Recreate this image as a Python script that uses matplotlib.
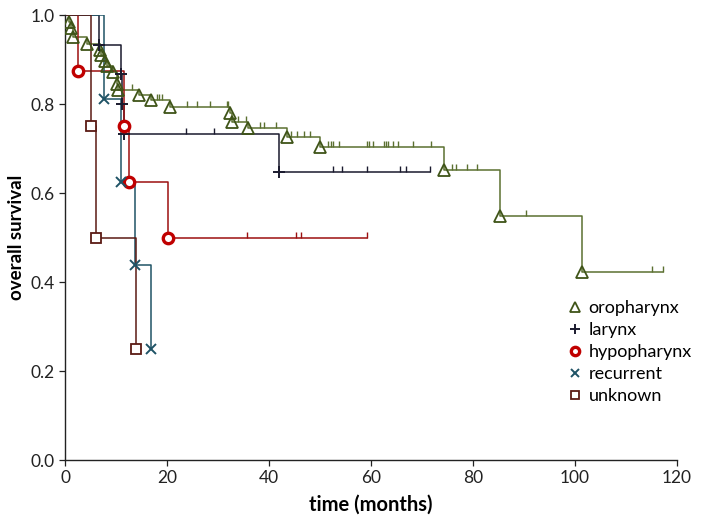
import matplotlib
matplotlib.use('Agg')

import matplotlib.pyplot as plt
from matplotlib.lines import Line2D
import numpy as np

# event times (months) and survival after each event
oro_t = [0.8, 1.1, 1.5, 4.3, 6.8, 7.0, 7.8, 8.3, 9.4, 10.1, 10.3, 14.6, 16.8,
         20.6, 32.4, 32.8, 35.9, 43.5, 49.9, 74.3, 85.2, 101.4]
oro_s = [0.985, 0.97, 0.95, 0.936, 0.921, 0.91, 0.896, 0.885, 0.871, 0.844,
         0.831, 0.82, 0.809, 0.793, 0.78, 0.76, 0.746, 0.726, 0.704, 0.652,
         0.548, 0.422]
oro_c = [13.1, 18.1, 18.5, 19.0, 23.9, 25.8, 28.4, 31.7, 32.0, 34.0, 35.4,
         38.2, 39.1, 41.3, 44.4, 45.4, 46.9, 48.0, 51.6, 52.1, 52.6, 53.8,
         59.2, 59.6, 60.3, 62.5, 62.9, 63.4, 64.4, 65.2, 68.3, 71.8, 75.8,
         76.6, 78.9, 80.8, 90.3, 115.0, 117.3]

lar_t = [6.7, 10.9, 11.1, 11.6, 42.0]
lar_s = [0.933, 0.867, 0.80, 0.733, 0.648]
lar_c = [23.7, 29.3, 52.6, 54.3, 59.2, 65.7, 66.9, 71.6]

hyp_t = [2.6, 11.6, 12.6, 20.1]
hyp_s = [0.875, 0.75, 0.625, 0.5]
hyp_c = [35.6, 45.2, 46.3, 59.2]

rec_t = [7.6, 10.9, 13.7, 16.8]
rec_s = [0.8125, 0.625, 0.4375, 0.25]
rec_c = []

unk_t = [5.1, 6.0, 13.9]
unk_s = [0.75, 0.5, 0.25]
unk_c = []

labels = ['oropharynx', 'larynx', 'hypopharynx', 'recurrent', 'unknown']

plt.rcParams['font.family'] = ['Lato', 'DejaVu Sans']


def km_curve(ax, t, s, cens, line_col, mk, mk_col, ms, mew, mfc='none'):
    t = np.asarray(t, float)
    s = np.asarray(s, float)
    cens = np.asarray(cens, float)
    end = max(t.max(), cens.max() if cens.size else 0)
    x = np.concatenate([[0], t, [end]])
    y = np.concatenate([[1.0], s, [s[-1]]])
    ax.step(x, y, where='post', color=line_col, lw=1.1, zorder=2)
    if cens.size:
        idx = np.searchsorted(t, cens, side='right')
        lev = np.where(idx > 0, s[np.maximum(idx - 1, 0)], 1.0)
        ax.vlines(cens, lev, lev + 0.013, color=line_col, lw=1.0, zorder=2)
    ax.plot(t, s, linestyle='none', marker=mk, ms=ms, mec=mk_col,
            mfc=mfc, mew=mew, zorder=4)


fig = plt.figure(figsize=(7.03, 5.27), dpi=100)
ax = fig.add_axes([0.0925, 0.127, 0.8706, 0.8444])

styles = [
    ('#5b7030', '^', '#3f5418', 8.5, 1.3, 'none'),
    ('#1a1a2e', '+', '#1a1a2e', 9, 1.4, 'none'),
    ('#9c1010', 'o', '#c00000', 7.5, 2.4, 'white'),
    ('#1f5366', 'x', '#1f5366', 7.5, 1.4, 'none'),
    ('#5a1a14', 's', '#5a1a14', 7.5, 1.3, 'white'),
]
curves = [(oro_t, oro_s, oro_c), (lar_t, lar_s, lar_c), (hyp_t, hyp_s, hyp_c),
          (rec_t, rec_s, rec_c), (unk_t, unk_s, unk_c)]

for (t, s, c), st in zip(curves, styles):
    km_curve(ax, t, s, c, st[0], st[1], st[2], st[3], st[4], st[5])

ax.set_xlim(0, 120)
ax.set_ylim(0, 1.0)
ax.set_xticks(np.arange(0, 121, 20))
ax.set_yticks(np.arange(0, 1.01, 0.2))
ax.set_yticklabels(['%.1f' % v for v in np.arange(0, 1.01, 0.2)])
ax.tick_params(labelsize=12.5, colors='#222222', length=4, width=0.9)
for sp in ['top', 'right']:
    ax.spines[sp].set_visible(False)
for sp in ['left', 'bottom']:
    ax.spines[sp].set_color('#222222')
    ax.spines[sp].set_linewidth(1.0)

ax.set_xlabel('time (months)', fontsize=14.5, fontweight='bold', labelpad=6)
ax.set_ylabel('overall survival', fontsize=13.5, fontweight='bold', labelpad=4)

handles = [Line2D([], [], linestyle='none', marker=st[1], ms=st[3] * 0.8,
                  mec=st[2], mfc=st[5], mew=st[4]) for st in styles]
ax.legend(handles, labels, loc='upper left', bbox_to_anchor=(0.807, 0.38),
          frameon=False, fontsize=13, handlelength=0.8, handletextpad=0.35,
          labelspacing=0.33, borderpad=0)

fig.savefig('out.png', dpi=100)
